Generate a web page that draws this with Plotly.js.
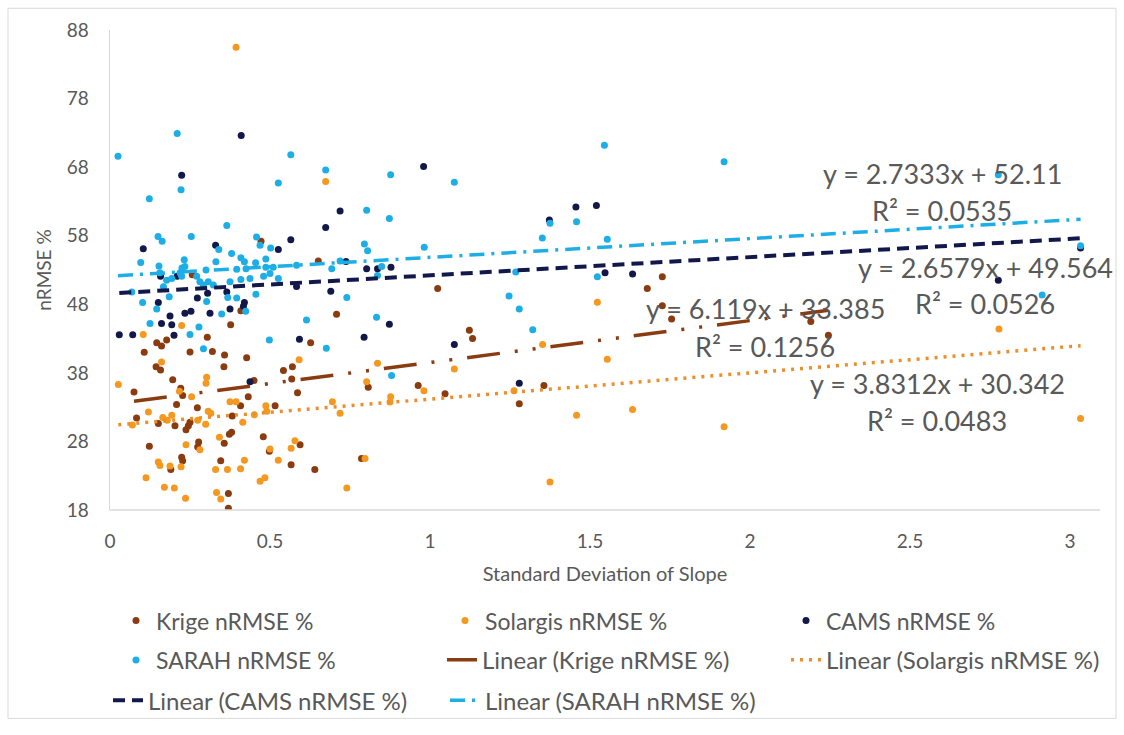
<!DOCTYPE html>
<html>
<head>
<meta charset="utf-8">
<script src="https://cdn.plot.ly/plotly-3.0.1.min.js"></script>
<style>html,body{margin:0;padding:0;background:#fff;}#chart{width:1124px;height:735px;}</style>
</head>
<body>
<div id="chart"></div>
<script>
// ---- data ----
const krigeX = [0.472,0.257,0.651,0.409,0.708,0.377,0.304,0.627,0.146,0.161,0.177,0.107,0.25,0.32,0.358,0.427,0.144,0.158,0.356,0.542,0.57,0.196,0.45,0.568,0.075,0.221,0.227,0.586,0.208,0.273,0.432,0.408,0.516,0.083,0.151,0.203,0.2375,0.245,0.25,0.382,0.38,0.373,0.479,0.123,0.277,0.274,0.357,0.594,0.498,0.224,0.227,0.19,0.346,0.566,0.64,0.37,0.37,1.024,1.123,1.133,0.807,0.963,1.047,1.356,1.279,0.786,1.726,1.679,1.755,1.726,2.19,2.245];
const krigeY = [57.2,52.3,54.3,47.05,46.55,45.0,43.2,42.4,42.4,41.9,42.8,41.0,41.05,41.1,40.6,40.2,38.9,38.4,38.9,38.35,38.9,37.0,36.9,37.1,35.2,35.75,34.7,35.1,33.4,32.9,34.5,33.2,33.2,31.4,30.6,30.3,29.7,30.3,30.8,31.7,29.35,29.05,28.7,27.3,27.9,27.2,27.75,27.5,26.55,25.7,25.2,23.9,25.2,24.6,23.9,20.4,18.25,50.3,44.2,43.0,35.9,36.15,34.95,36.15,33.5,25.5,52.0,50.3,45.85,47.8,45.5,43.5];

const solargisX = [0.394,0.674,0.224,0.104,0.161,0.591,0.302,0.3,0.026,0.217,0.255,0.375,0.394,0.487,0.695,0.719,0.12,0.165,0.193,0.07,0.179,0.274,0.299,0.315,0.307,0.415,0.451,0.49,0.342,0.2375,0.281,0.578,0.566,0.5,0.151,0.156,0.1875,0.222,0.42,0.33,0.367,0.408,0.526,0.1125,0.17,0.201,0.469,0.484,0.74,0.236,0.333,0.346,1.523,1.352,0.836,1.076,1.554,0.802,0.981,0.877,0.875,1.2625,1.458,1.633,0.797,1.375,2.778,1.919,3.033];
const solargisY = [85.5,65.9,44.9,43.6,39.6,39.9,37.35,36.5,36.3,35.3,34.5,33.8,33.8,33.2,33.8,32.1,32.3,31.5,31.8,30.4,31.1,31.1,30.5,32.1,32.4,30.8,31.9,32.4,28.6,27.5,26.8,28.1,27.0,26.9,25.0,24.5,24.4,24.3,25.25,23.9,23.9,24.0,25.25,22.7,21.3,21.2,22.2,22.7,21.2,19.7,20.55,19.6,48.3,42.15,39.4,38.55,40.0,36.7,35.4,34.5,33.75,35.4,31.8,32.65,25.5,22.1,44.4,30.15,31.35];

const camsX = [0.41,0.224,0.719,0.674,0.104,0.33,0.565,0.526,0.158,0.21,0.583,0.69,0.151,0.273,0.305,0.365,0.42,0.417,0.375,0.1875,0.234,0.253,0.3125,0.161,0.193,0.029,0.071,0.2,0.592,0.4375,0.7375,0.802,0.836,0.878,0.98,1.456,1.52,1.373,1.547,1.633,0.873,0.794,1.076,1.279,2.776,3.033];
const camsY = [72.6,66.8,61.6,59.2,56.1,56.6,57.4,56.0,52.1,52.1,50.6,49.9,48.25,48.9,49.6,49.8,48.25,47.7,47.3,46.3,46.7,47.0,46.7,45.2,45.0,43.55,43.55,43.5,42.9,36.7,54.25,53.2,53.2,53.4,68.1,62.2,62.4,60.3,52.6,52.4,45.1,43.2,42.15,36.5,51.5,56.2];

const sarahX = [0.025,0.21,0.565,0.674,0.526,0.222,0.123,0.365,0.15,0.163,0.254,0.34,0.458,0.469,0.502,0.096,0.232,0.234,0.153,0.225,0.219,0.224,0.331,0.38,0.409,0.42,0.455,0.487,0.396,0.425,0.3,0.487,0.51,0.5,0.48,0.526,0.583,0.719,0.693,0.156,0.177,0.193,0.271,0.281,0.292,0.307,0.323,0.375,0.409,0.4375,0.167,0.068,0.185,0.102,0.302,0.368,0.396,0.456,0.146,0.125,0.278,0.349,0.424,0.614,0.25,0.498,0.676,0.292,0.74,0.877,1.076,1.545,0.802,0.873,1.375,1.458,1.351,1.554,0.795,0.805,0.982,0.849,0.836,1.268,1.523,1.247,1.279,0.833,1.321,0.88,1.919,2.776,3.033,2.913];
const sarahY = [69.6,72.9,69.8,67.6,65.7,64.7,63.4,59.5,57.9,57.2,57.9,56.0,57.8,56.6,56.2,54.1,54.5,53.5,53.6,53.3,52.6,52.1,54.2,55.4,54.8,54.2,54.05,54.6,53.1,53.2,53.0,53.4,53.4,52.5,52.1,51.75,53.7,54.3,53.2,52.6,51.5,51.75,52.1,51.3,50.8,51.3,50.8,51.3,51.6,51.75,50.55,49.8,49.1,48.25,48.4,49.0,48.9,49.45,47.3,45.2,44.7,46.6,47.0,45.7,43.6,42.8,41.6,41.5,49.0,66.9,65.8,71.2,61.7,60.5,59.8,60.05,57.65,57.5,56.8,55.8,56.3,53.5,52.2,52.7,52.0,49.2,47.3,46.1,44.3,37.6,68.8,66.9,56.55,49.35];

// trend line coefficients as printed on the chart (Krige, Solargis, CAMS, SARAH)
const seriesNames = ["Krige nRMSE %", "Solargis nRMSE %", "CAMS nRMSE %", "SARAH nRMSE %"];
const trendSlopes = [6.119, 3.8312, 2.6579, 2.7333];
const trendIntercepts = [33.385, 30.342, 49.564, 52.11];
const trendEquations = ["y = 6.119x + 33.385", "y = 3.8312x + 30.342", "y = 2.6579x + 49.564", "y = 2.7333x + 52.11"];
const trendR2 = ["R² = 0.1256", "R² = 0.0483", "R² = 0.0526", "R² = 0.0535"];
const xTicks = [0, 0.5, 1, 1.5, 2, 2.5, 3];
const yTicks = [18, 28, 38, 48, 58, 68, 78, 88];

// ---- styling ----
const colors = ["#8A3B10", "#F4981F", "#13184A", "#1DAEE6"];
const lineColors = ["#8A3B10", "#EE8E2A", "#13184A", "#1DAEE6"];
const dashes = ["33px,15px,3px,15px,3px,15px", "3px,6px", "12px,7px", "15px,7px,3px,7px"];
const lineWidths = [3.5, 3.5, 4, 3.5];
const FONT = "Lato, 'Noto Sans', sans-serif";
const TXT = "#595959";

const W = 1124, H = 735, L = 110, R = 24, T = 30, B = 219;
const PW = W - L - R, PH = H - T - B;
const px2x = p => (p - L) / PW;           // paper x from pixel
const py2y = p => (H - B - p) / PH;       // paper y from pixel

const allX = [krigeX, solargisX, camsX, sarahX];
const allY = [krigeY, solargisY, camsY, sarahY];

const traces = [];
for (let i = 0; i < 4; i++) {
  traces.push({
    type: "scatter", mode: "markers", name: seriesNames[i],
    x: allX[i], y: allY[i],
    marker: {color: colors[i], size: 7},
    legend: "legend" + (i === 0 ? "" : (i + 1)),
    hoverinfo: "x+y"
  });
}
for (let i = 0; i < 4; i++) {
  const xmin = Math.min(...allX[i]), xmax = Math.max(...allX[i]);
  traces.push({
    type: "scatter", mode: "lines", name: "Linear (" + seriesNames[i] + ")",
    x: [xmin, xmax],
    y: [trendIntercepts[i] + trendSlopes[i] * xmin, trendIntercepts[i] + trendSlopes[i] * xmax],
    line: {color: lineColors[i], width: lineWidths[i], dash: dashes[i]},
    legend: "legend" + (i + 5),
    hoverinfo: "skip"
  });
}

// legend placements: [text start px, centre y px, font size]
const legendPos = [[156,628,23],[485,628,23],[826,628,23],[156,668,23],[482,668,24],[826,668,24],[148,709,24],[485,709,24]];
const layout = {
  width: W, height: H,
  margin: {l: L, r: R, t: T, b: B},
  paper_bgcolor: "#ffffff", plot_bgcolor: "#ffffff",
  font: {family: FONT, color: TXT, size: 18},
  showlegend: true,
  xaxis: {
    range: [0, PW / 320], tickvals: xTicks, ticktext: xTicks.map(String),
    showgrid: false, zeroline: false, showline: false, ticks: "",
    tickfont: {size: 19, color: TXT, family: FONT}, ticklabelstandoff: 18,
    title: {text: "Standard Deviation of Slope", font: {size: 20, color: TXT, family: FONT}, standoff: 15}
  },
  yaxis: {
    range: [18, 88], tickvals: yTicks, ticktext: yTicks.map(String),
    showgrid: false, zeroline: false, showline: true, linecolor: "#D9D9D9", linewidth: 1.5, ticks: "",
    tickfont: {size: 19, color: TXT, family: FONT}, ticklabelstandoff: 16,
    title: {text: "nRMSE %", font: {size: 19, color: TXT, family: FONT}, standoff: 10}
  },
  shapes: [
    {type: "line", xref: "paper", yref: "paper", x0: 0, x1: 1, y0: 0, y1: 0, line: {color: "#D9D9D9", width: 1.5}},
    {type: "rect", xref: "paper", yref: "paper", x0: px2x(8), x1: px2x(1116), y0: py2y(727), y1: py2y(8), line: {color: "#D9D9D9", width: 1}}
  ],
  annotations: []
};
for (let k = 0; k < 8; k++) {
  const key = "legend" + (k === 0 ? "" : (k + 1));
  layout[key] = {
    x: px2x(legendPos[k][0] - 40), y: py2y(legendPos[k][1]),
    xanchor: "left", yanchor: "middle", orientation: "h",
    bgcolor: "rgba(0,0,0,0)", borderwidth: 0,
    font: {size: legendPos[k][2], color: TXT, family: FONT}
  };
}
// equation labels [index, centre x px, eq y px, R2 y px]
const labelPos = [[0,765,312,350],[1,937,388,425],[2,985,270,307],[3,942,175,213]];
const xOf = p => (p - L) / 320;
const yOf = p => 88 - (p - T) * 70 / PH;
labelPos.forEach(([i, cx, ey, ry]) => {
  layout.annotations.push({x: xOf(cx), y: yOf(ey), xref: "x", yref: "y", text: trendEquations[i], showarrow: false, font: {size: 27, color: TXT, family: FONT}});
  layout.annotations.push({x: xOf(cx), y: yOf(ry), xref: "x", yref: "y", text: trendR2[i], showarrow: false, font: {size: 27, color: TXT, family: FONT}});
});

Plotly.newPlot("chart", traces, layout, {displayModeBar: false, staticPlot: true});
</script>
</body>
</html>
